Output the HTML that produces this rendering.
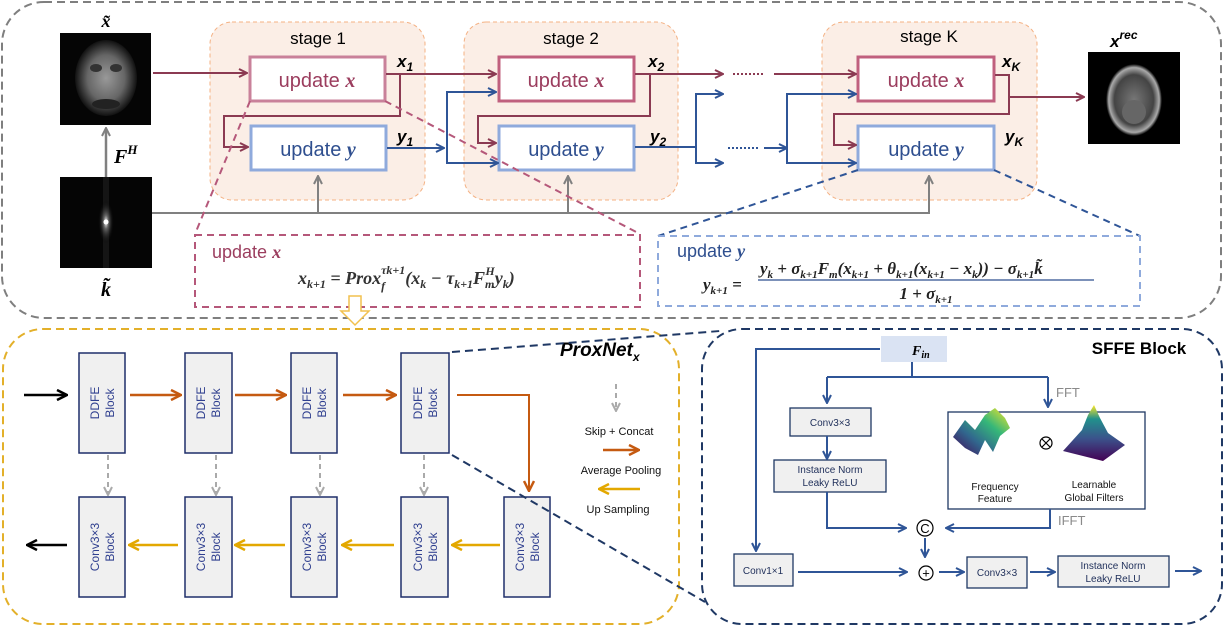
<!DOCTYPE html>
<html><head><meta charset="utf-8"><style>
html,body{margin:0;padding:0;background:#fff}
svg{display:block}
text{font-family:"Liberation Sans",sans-serif}
.m{font-family:"Liberation Serif",serif;font-style:italic;font-weight:bold}
</style></head><body>
<svg width="1225" height="626" viewBox="0 0 1225 626" xmlns="http://www.w3.org/2000/svg">
<defs>
<marker id="am" markerWidth="10" markerHeight="10" refX="8" refY="5" orient="auto" markerUnits="userSpaceOnUse"><path d="M1,1 L9,5 L1,9" fill="none" stroke="#8b3a52" stroke-width="2"/></marker>
<marker id="ab" markerWidth="10" markerHeight="10" refX="8" refY="5" orient="auto" markerUnits="userSpaceOnUse"><path d="M1,1 L9,5 L1,9" fill="none" stroke="#2f5597" stroke-width="2"/></marker>
<marker id="ag" markerWidth="10" markerHeight="10" refX="8" refY="5" orient="auto" markerUnits="userSpaceOnUse"><path d="M1,1 L9,5 L1,9" fill="none" stroke="#808080" stroke-width="2"/></marker>
<marker id="agl" markerWidth="10" markerHeight="10" refX="8" refY="5" orient="auto" markerUnits="userSpaceOnUse"><path d="M1,1 L9,5 L1,9" fill="none" stroke="#aaaaaa" stroke-width="2"/></marker>
<marker id="ao" markerWidth="12" markerHeight="12" refX="10" refY="6" orient="auto" markerUnits="userSpaceOnUse"><path d="M1,1 L11,6 L1,11" fill="none" stroke="#c55a11" stroke-width="2.5"/></marker>
<marker id="ay" markerWidth="12" markerHeight="12" refX="10" refY="6" orient="auto" markerUnits="userSpaceOnUse"><path d="M1,1 L11,6 L1,11" fill="none" stroke="#e3a800" stroke-width="2.5"/></marker>
<marker id="ak" markerWidth="12" markerHeight="12" refX="10" refY="6" orient="auto" markerUnits="userSpaceOnUse"><path d="M1,1 L11,6 L1,11" fill="none" stroke="#000" stroke-width="2.5"/></marker>
<marker id="an" markerWidth="10" markerHeight="10" refX="8" refY="5" orient="auto" markerUnits="userSpaceOnUse"><path d="M1,1 L9,5 L1,9" fill="none" stroke="#2f5597" stroke-width="2"/></marker>
<radialGradient id="face" cx="50%" cy="50%" r="50%"><stop offset="0" stop-color="#999"/><stop offset="0.6" stop-color="#666"/><stop offset="1" stop-color="#111"/></radialGradient>
<radialGradient id="kc" cx="50%" cy="50%" r="50%"><stop offset="0" stop-color="#fff"/><stop offset="0.3" stop-color="#666"/><stop offset="1" stop-color="#000" stop-opacity="0"/></radialGradient>
<radialGradient id="br" cx="50%" cy="50%" r="50%"><stop offset="0" stop-color="#777"/><stop offset="0.7" stop-color="#444"/><stop offset="0.9" stop-color="#aaa"/><stop offset="1" stop-color="#000"/></radialGradient>
<linearGradient id="vir" x1="0" y1="1" x2="1" y2="0"><stop offset="0" stop-color="#440154"/><stop offset="0.35" stop-color="#31688e"/><stop offset="0.65" stop-color="#35b779"/><stop offset="1" stop-color="#fde725"/></linearGradient>
<linearGradient id="vir2" x1="0" y1="1" x2="0" y2="0"><stop offset="0" stop-color="#440154"/><stop offset="0.4" stop-color="#3b528b"/><stop offset="0.75" stop-color="#21918c"/><stop offset="1" stop-color="#fde725"/></linearGradient>
</defs>

<rect x="2" y="2" width="1219" height="316" rx="42" fill="none" stroke="#7f7f7f" stroke-width="2" stroke-dasharray="8,5"/>

<rect x="60" y="33" width="91" height="92" fill="#050505"/>
<ellipse cx="106" cy="78" rx="31" ry="38" fill="url(#face)"/>
<ellipse cx="96" cy="68" rx="6" ry="4" fill="#333"/><ellipse cx="116" cy="68" rx="6" ry="4" fill="#333"/>
<ellipse cx="106" cy="104" rx="14" ry="5" fill="#222"/>
<rect x="60" y="177" width="92" height="91" fill="#050505"/>
<rect x="103" y="177" width="6" height="91" fill="#151515"/>
<ellipse cx="106" cy="222" rx="8" ry="22" fill="url(#kc)"/>
<circle cx="106" cy="222" r="2.5" fill="#fff"/>
<text x="106" y="27" class="m" font-size="18" text-anchor="middle">x̃</text>
<text x="106" y="296" class="m" font-size="20" text-anchor="middle">k̃</text>
<line x1="106" y1="177" x2="106" y2="129" stroke="#808080" stroke-width="2.5" marker-end="url(#ag)"/>
<text x="114" y="163" class="m" font-size="20">F<tspan font-size="13" dy="-9">H</tspan></text>

<rect x="210" y="22" width="215" height="178" rx="22" fill="#fbeee6" stroke="#f4b183" stroke-dasharray="4,3"/>
<rect x="464" y="22" width="214" height="178" rx="22" fill="#fbeee6" stroke="#f4b183" stroke-dasharray="4,3"/>
<rect x="822" y="22" width="215" height="178" rx="22" fill="#fbeee6" stroke="#f4b183" stroke-dasharray="4,3"/>
<text x="318" y="44" font-size="17" text-anchor="middle">stage 1</text>
<text x="571" y="44" font-size="17" text-anchor="middle">stage 2</text>
<text x="929" y="42" font-size="17" text-anchor="middle">stage K</text>

<g stroke-width="3" fill="#fff">
<rect x="250" y="57" width="135" height="44" stroke="#c9819a"/>
<rect x="251" y="126" width="135" height="44" stroke="#8faadc"/>
<rect x="499" y="57" width="135" height="44" stroke="#c0607e"/>
<rect x="499" y="126" width="135" height="44" stroke="#8faadc"/>
<rect x="858" y="57" width="136" height="44" stroke="#c0607e"/>
<rect x="858" y="126" width="136" height="44" stroke="#8faadc"/>
</g>
<g font-size="20" text-anchor="middle">
<text x="317" y="87" fill="#9b3d5e">update <tspan class="m">x</tspan></text>
<text x="318" y="156" fill="#2f4f8f">update <tspan class="m">y</tspan></text>
<text x="566" y="87" fill="#9b3d5e">update <tspan class="m">x</tspan></text>
<text x="566" y="156" fill="#2f4f8f">update <tspan class="m">y</tspan></text>
<text x="926" y="87" fill="#9b3d5e">update <tspan class="m">x</tspan></text>
<text x="926" y="156" fill="#2f4f8f">update <tspan class="m">y</tspan></text>
</g>
<g class="m" font-size="17">
<text x="397" y="67">x<tspan font-size="12" dy="4">1</tspan></text>
<text x="397" y="142">y<tspan font-size="12" dy="4">1</tspan></text>
<text x="648" y="67">x<tspan font-size="12" dy="4">2</tspan></text>
<text x="650" y="142">y<tspan font-size="12" dy="4">2</tspan></text>
<text x="1002" y="67">x<tspan font-size="12" dy="4">K</tspan></text>
<text x="1005" y="142">y<tspan font-size="12" dy="4">K</tspan></text>
<text x="1110" y="47">x<tspan font-size="12" dy="-8">rec</tspan></text>
</g>

<g stroke="#8b3a52" stroke-width="2" fill="none">
<line x1="153" y1="73" x2="246" y2="73" marker-end="url(#am)"/>
<line x1="386" y1="74" x2="495" y2="74" marker-end="url(#am)"/>
<polyline points="400,74 400,116 224,116 224,147 247,147" marker-end="url(#am)"/>
<polyline points="635,74 650,74 650,116 478,116 478,143 495,143" marker-end="url(#am)"/>
<line x1="650" y1="74" x2="722" y2="74" marker-end="url(#am)"/>
<line x1="733" y1="74" x2="764" y2="74" stroke-dasharray="2,2"/>
<line x1="774" y1="74" x2="855" y2="74" marker-end="url(#am)"/>
<polyline points="995,75 1009,75 1009,114 834,114 834,145 855,145" marker-end="url(#am)"/>
<line x1="1009" y1="97" x2="1083" y2="97" marker-end="url(#am)"/>
</g>
<g stroke="#2f5597" stroke-width="2" fill="none">
<line x1="387" y1="148" x2="443" y2="148" marker-end="url(#ab)"/>
<polyline points="495,92 447,92 447,163 497,163" marker-end="url(#ab)"/>
<line x1="447" y1="92" x2="495" y2="92" marker-end="url(#ab)"/>
<line x1="635" y1="147" x2="696" y2="147"/>
<polyline points="722,94 696,94 696,163 722,163" marker-end="url(#ab)"/>
<line x1="696" y1="94" x2="722" y2="94" marker-end="url(#ab)"/>
<line x1="728" y1="148" x2="758" y2="148" stroke-dasharray="2,2"/>
<line x1="764" y1="148" x2="786" y2="148" marker-end="url(#ab)"/>
<polyline points="855,94 787,94 787,163 855,163" marker-end="url(#ab)"/>
<line x1="787" y1="94" x2="855" y2="94" marker-end="url(#ab)"/>
</g>
<g stroke="#808080" stroke-width="2" fill="none">
<polyline points="152,213 929,213 929,177" marker-end="url(#ag)"/>
<line x1="318" y1="213" x2="318" y2="177" marker-end="url(#ag)"/>
<line x1="568" y1="213" x2="568" y2="177" marker-end="url(#ag)"/>
</g>

<rect x="1088" y="52" width="92" height="92" fill="#000"/>
<ellipse cx="1134" cy="100" rx="28" ry="36" fill="url(#br)"/>
<ellipse cx="1134" cy="112" rx="12" ry="12" fill="#666"/>

<line x1="250" y1="101" x2="195" y2="234" stroke="#b5587a" stroke-width="2" stroke-dasharray="7,5"/>
<line x1="385" y1="101" x2="640" y2="234" stroke="#b5587a" stroke-width="2" stroke-dasharray="7,5"/>
<rect x="195" y="235" width="445" height="72" fill="none" stroke="#b5587a" stroke-width="2" stroke-dasharray="7,5"/>
<text x="212" y="258" font-size="18" fill="#9b3d5e">update <tspan class="m">x</tspan></text>
<text x="298" y="284" class="m" font-size="18" fill="#333">x<tspan font-size="12" dy="4">k+1</tspan><tspan dy="-4"> = Prox</tspan><tspan font-size="12" dy="6">f</tspan><tspan font-size="12" dx="-4" dy="-16">τk+1</tspan><tspan dy="10">(x</tspan><tspan font-size="12" dy="4">k</tspan><tspan dy="-4"> − τ</tspan><tspan font-size="12" dy="4">k+1</tspan><tspan dy="-4">F</tspan><tspan font-size="12" dy="4">m</tspan><tspan font-size="12" dx="-9" dy="-13">H</tspan><tspan dy="9">y</tspan><tspan font-size="12" dy="4">k</tspan><tspan dy="-4">)</tspan></text>

<line x1="858" y1="170" x2="658" y2="236" stroke="#2f5597" stroke-width="2" stroke-dasharray="7,5"/>
<line x1="994" y1="170" x2="1140" y2="236" stroke="#2f5597" stroke-width="2" stroke-dasharray="7,5"/>
<rect x="658" y="236" width="482" height="70" fill="none" stroke="#8faadc" stroke-width="2" stroke-dasharray="7,5"/>
<text x="677" y="257" font-size="18" fill="#2f4f8f">update <tspan class="m">y</tspan></text>
<text x="703" y="290" class="m" font-size="17" fill="#222">y<tspan font-size="11" dy="4">k+1</tspan><tspan dy="-4"> =</tspan></text>
<text x="760" y="274" class="m" font-size="17" fill="#222">y<tspan font-size="11" dy="4">k</tspan><tspan dy="-4"> + σ</tspan><tspan font-size="11" dy="4">k+1</tspan><tspan dy="-4">F</tspan><tspan font-size="11" dy="4">m</tspan><tspan dy="-4">(x</tspan><tspan font-size="11" dy="4">k+1</tspan><tspan dy="-4"> + θ</tspan><tspan font-size="11" dy="4">k+1</tspan><tspan dy="-4">(x</tspan><tspan font-size="11" dy="4">k+1</tspan><tspan dy="-4"> − x</tspan><tspan font-size="11" dy="4">k</tspan><tspan dy="-4">)) − σ</tspan><tspan font-size="11" dy="4">k+1</tspan><tspan dy="-4">k̃</tspan></text>
<line x1="758" y1="280" x2="1094" y2="280" stroke="#2f4f8f" stroke-width="1.3"/>
<text x="926" y="299" class="m" font-size="17" fill="#222" text-anchor="middle">1 + σ<tspan font-size="11" dy="4">k+1</tspan></text>

<path d="M349,296 L361,296 L361,311 L369,311 L355,325 L341,311 L349,311 Z" fill="#fff" stroke="#f2c14e" stroke-width="1.5"/>

<rect x="3" y="329" width="676" height="295" rx="40" fill="none" stroke="#e3b02a" stroke-width="2" stroke-dasharray="8,5"/>
<text x="560" y="356" font-family="Liberation Serif" font-style="italic" font-weight="bold" font-size="19">ProxNet<tspan font-size="12" dy="5">x</tspan></text>

<g fill="#f0f0f0" stroke="#1f2f6a" stroke-width="1.5">
<rect x="79" y="353" width="46" height="100"/><rect x="185" y="353" width="47" height="100"/>
<rect x="291" y="353" width="46" height="100"/><rect x="401" y="353" width="48" height="100"/>
<rect x="79" y="497" width="46" height="100"/><rect x="185" y="497" width="47" height="100"/>
<rect x="291" y="497" width="46" height="100"/><rect x="401" y="497" width="47" height="100"/>
<rect x="504" y="497" width="46" height="100"/>
</g>
<g font-size="12" fill="#2f3f8f" text-anchor="middle">
<g transform="translate(102,403) rotate(-90)"><text y="-3">DDFE</text><text y="12">Block</text></g>
<g transform="translate(208,403) rotate(-90)"><text y="-3">DDFE</text><text y="12">Block</text></g>
<g transform="translate(314,403) rotate(-90)"><text y="-3">DDFE</text><text y="12">Block</text></g>
<g transform="translate(425,403) rotate(-90)"><text y="-3">DDFE</text><text y="12">Block</text></g>
<g transform="translate(102,547) rotate(-90)"><text y="-3">Conv3×3</text><text y="12">Block</text></g>
<g transform="translate(208,547) rotate(-90)"><text y="-3">Conv3×3</text><text y="12">Block</text></g>
<g transform="translate(314,547) rotate(-90)"><text y="-3">Conv3×3</text><text y="12">Block</text></g>
<g transform="translate(425,547) rotate(-90)"><text y="-3">Conv3×3</text><text y="12">Block</text></g>
<g transform="translate(527,547) rotate(-90)"><text y="-3">Conv3×3</text><text y="12">Block</text></g>
</g>
<g stroke-width="2.5" fill="none">
<line x1="24" y1="395" x2="66" y2="395" stroke="#000" marker-end="url(#ak)"/>
<line x1="67" y1="545" x2="28" y2="545" stroke="#000" marker-end="url(#ak)"/>
<line x1="130" y1="395" x2="180" y2="395" stroke="#c55a11" marker-end="url(#ao)"/>
<line x1="235" y1="395" x2="285" y2="395" stroke="#c55a11" marker-end="url(#ao)"/>
<line x1="343" y1="395" x2="395" y2="395" stroke="#c55a11" marker-end="url(#ao)"/>
<polyline points="457,395 529,395 529,490" stroke="#c55a11" stroke-width="2" marker-end="url(#ao)"/>
<line x1="178" y1="545" x2="130" y2="545" stroke="#e3a800" marker-end="url(#ay)"/>
<line x1="285" y1="545" x2="236" y2="545" stroke="#e3a800" marker-end="url(#ay)"/>
<line x1="394" y1="545" x2="343" y2="545" stroke="#e3a800" marker-end="url(#ay)"/>
<line x1="500" y1="545" x2="453" y2="545" stroke="#e3a800" marker-end="url(#ay)"/>
<line x1="603" y1="450" x2="638" y2="450" stroke="#c55a11" marker-end="url(#ao)"/>
<line x1="640" y1="489" x2="600" y2="489" stroke="#e3a800" marker-end="url(#ay)"/>
</g>
<g stroke="#aaa" stroke-width="2" stroke-dasharray="5,4" fill="none">
<line x1="108" y1="455" x2="108" y2="494" marker-end="url(#agl)"/>
<line x1="216" y1="455" x2="216" y2="494" marker-end="url(#agl)"/>
<line x1="320" y1="455" x2="320" y2="494" marker-end="url(#agl)"/>
<line x1="424" y1="455" x2="424" y2="494" marker-end="url(#agl)"/>
<line x1="616" y1="384" x2="616" y2="410" marker-end="url(#agl)"/>
</g>
<g font-size="11" text-anchor="middle" fill="#111">
<text x="619" y="435">Skip + Concat</text>
<text x="621" y="474">Average Pooling</text>
<text x="618" y="513">Up Sampling</text>
</g>

<rect x="702" y="329" width="520" height="295" rx="40" fill="none" stroke="#1f3864" stroke-width="2" stroke-dasharray="8,5"/>
<line x1="452" y1="352" x2="720" y2="331" stroke="#1f3864" stroke-width="2" stroke-dasharray="8,5"/>
<line x1="452" y1="455" x2="705" y2="602" stroke="#1f3864" stroke-width="2" stroke-dasharray="8,5"/>
<text x="1139" y="354" font-size="17" font-weight="bold" text-anchor="middle">SFFE Block</text>

<rect x="881" y="336" width="66" height="26" fill="#dae3f3"/>
<text x="912" y="355" class="m" font-size="14">F<tspan font-size="10" dy="3">in</tspan></text>

<g fill="#f0f0f0" stroke="#1f3864" stroke-width="1.3">
<rect x="790" y="408" width="81" height="28"/>
<rect x="774" y="460" width="112" height="32"/>
<rect x="734" y="554" width="59" height="32"/>
<rect x="967" y="557" width="60" height="31"/>
<rect x="1058" y="556" width="111" height="31"/>
</g>
<rect x="948" y="412" width="197" height="97" fill="#fff" stroke="#1f3864" stroke-width="1.3"/>
<g font-size="10" text-anchor="middle" fill="#1f2f5a">
<text x="830" y="426">Conv3×3</text>
<text x="830" y="473">Instance Norm</text><text x="830" y="486">Leaky ReLU</text>
<text x="763" y="574">Conv1×1</text>
<text x="997" y="576">Conv3×3</text>
<text x="1113" y="569">Instance Norm</text><text x="1113" y="582">Leaky ReLU</text>
</g>
<g font-size="10" text-anchor="middle" fill="#111">
<text x="995" y="490">Frequency</text><text x="995" y="502">Feature</text>
<text x="1094" y="488">Learnable</text><text x="1094" y="501">Global Filters</text>
</g>
<path d="M953,437 L965,420 L975,430 L985,415 L995,408 L1005,418 L1010,428 L1000,436 L993,452 L985,440 L978,455 L965,448 Z" fill="url(#vir)"/>
<path d="M1063,451 L1082,430 L1088,415 L1094,405 L1100,418 L1108,433 L1125,445 L1103,461 Z" fill="url(#vir2)"/>
<circle cx="1046" cy="443" r="6" fill="none" stroke="#000" stroke-width="1.2"/>
<path d="M1042,439 L1050,447 M1050,439 L1042,447" stroke="#000" stroke-width="1.2"/>

<g stroke="#2f5597" stroke-width="2" fill="none">
<polyline points="880,349 756,349 756,550" marker-end="url(#an)"/>
<polyline points="912,362 912,377"/>
<polyline points="827,377 1048,377"/>
<line x1="827" y1="377" x2="827" y2="402" marker-end="url(#an)"/>
<line x1="1048" y1="377" x2="1048" y2="406" marker-end="url(#an)"/>
<line x1="827" y1="436" x2="827" y2="458" marker-end="url(#an)"/>
<polyline points="827,492 827,528 905,528" marker-end="url(#an)"/>
<polyline points="1050,509 1050,528 947,528" marker-end="url(#an)"/>
<line x1="925" y1="538" x2="925" y2="556" marker-end="url(#an)"/>
<line x1="798" y1="572" x2="906" y2="572" marker-end="url(#an)"/>
<line x1="939" y1="572" x2="963" y2="572" marker-end="url(#an)"/>
<line x1="1030" y1="572" x2="1054" y2="572" marker-end="url(#an)"/>
<line x1="1175" y1="571" x2="1200" y2="571" marker-end="url(#an)"/>
</g>
<circle cx="925" cy="528" r="8" fill="#fff" stroke="#000" stroke-width="1.2"/>
<text x="925" y="533" font-size="13" text-anchor="middle">C</text>
<circle cx="926" cy="573" r="7" fill="#fff" stroke="#000" stroke-width="1.2"/>
<text x="926" y="577.5" font-size="13" text-anchor="middle">+</text>
<text x="1056" y="397" font-size="13" fill="#8a8a8a">FFT</text>
<text x="1058" y="525" font-size="13" fill="#8a8a8a">IFFT</text>
</svg>
</body></html>
